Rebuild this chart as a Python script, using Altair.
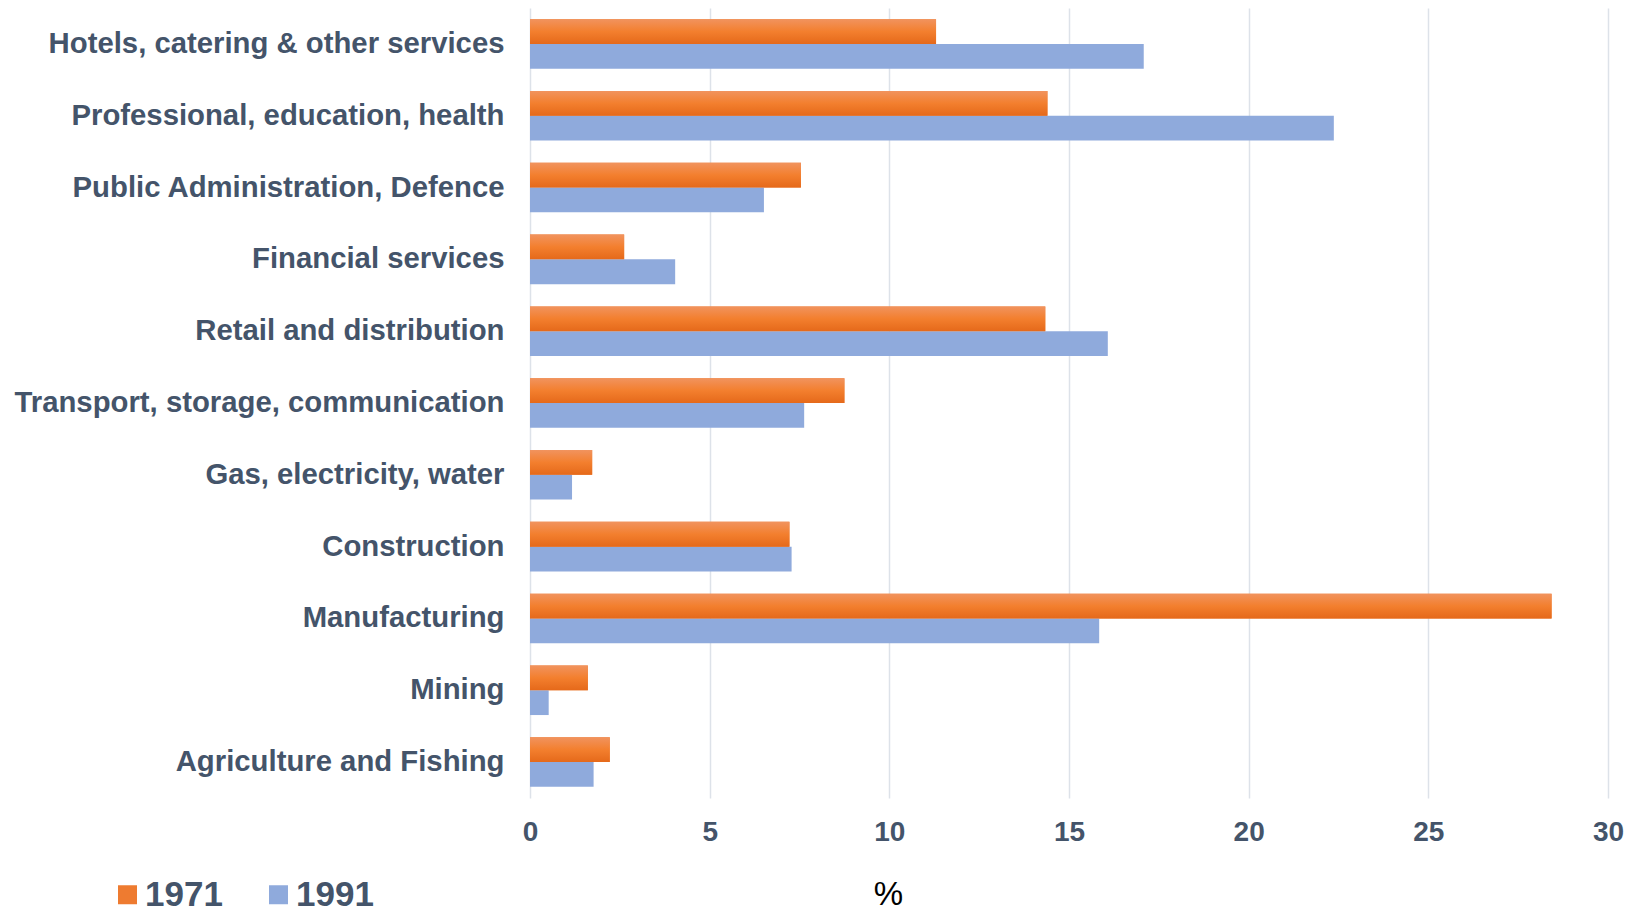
import altair as alt
import pandas as pd

categories = [
    "Hotels, catering & other services",
    "Professional, education, health",
    "Public Administration, Defence",
    "Financial services",
    "Retail and distribution",
    "Transport, storage, communication",
    "Gas, electricity, water",
    "Construction",
    "Manufacturing",
    "Mining",
    "Agriculture and Fishing",
]
v1971 = [11.3, 14.4, 7.54, 2.62, 14.34, 8.75, 1.73, 7.22, 28.43, 1.61, 2.22]
v1991 = [17.08, 22.37, 6.51, 4.04, 16.08, 7.63, 1.17, 7.28, 15.84, 0.52, 1.77]
years = ["1971", "1991"]
colors = ["#EE7B30", "#8FAADC"]
x_ticks = [0, 5, 10, 15, 20, 25, 30]

rows = []
for c, a, b in zip(categories, v1971, v1991):
    rows.append({"sector": c, "year": "1971", "value": a})
    rows.append({"sector": c, "year": "1991", "value": b})
df = pd.DataFrame(rows)

FONT = "Liberation Sans"
LABEL_COLOR = "#44546A"

y_enc = alt.Y(
    "sector:N",
    sort=categories,
    scale=alt.Scale(paddingInner=0.31, paddingOuter=0.155),
    axis=alt.Axis(
        title=None,
        labelFont=FONT,
        labelFontSize=29.3,
        labelFontWeight="bold",
        labelColor=LABEL_COLOR,
        labelPadding=26,
        labelLimit=700,
        ticks=False,
        domain=False,
        grid=False,
    ),
)
x_enc = alt.X(
    "value:Q",
    scale=alt.Scale(domain=[0, 30], nice=False),
    axis=alt.Axis(
        values=x_ticks,
        title="%",
        titleFont=FONT,
        titleFontSize=33,
        titleFontWeight="normal",
        titleColor="black",
        titleX=358,
        titleY=106,
        titleAlign="center",
        titleBaseline="alphabetic",
        labelFont=FONT,
        labelFontSize=28,
        labelFontWeight="bold",
        labelColor=LABEL_COLOR,
        labelPadding=20,
        labelFlush=False,
        ticks=False,
        domain=False,
        grid=True,
        gridColor="#DDE2E9",
        gridWidth=1.5,
    ),
)
yoff = alt.YOffset("year:N", scale=alt.Scale(domain=years, paddingInner=0, paddingOuter=0))

base_bars = alt.Chart(df).mark_bar().encode(
    y=y_enc,
    x=x_enc,
    yOffset=yoff,
    color=alt.Color(
        "year:N",
        scale=alt.Scale(domain=years, range=colors),
        legend=alt.Legend(
            orient="none",
            legendX=-420,
            legendY=869,
            direction="horizontal",
            title=None,
            symbolType="square",
            symbolSize=361,
            symbolStrokeWidth=0,
            labelFont=FONT,
            labelFontSize=35,
            labelFontWeight="bold",
            labelColor=LABEL_COLOR,
            labelOffset=0,
            columnPadding=38,
        ),
    ),
)

grad = alt.LinearGradient(
    gradient="linear",
    x1=0, x2=0, y1=0, y2=1,
    stops=[
        alt.GradientStop(color="#F1935E", offset=0),
        alt.GradientStop(color="#F37F2E", offset=0.5),
        alt.GradientStop(color="#E5691A", offset=1),
    ],
)

grad_bars = alt.Chart(df).transform_filter(alt.datum.year == "1971").mark_bar(color=grad).encode(
    y=alt.Y("sector:N", sort=categories),
    x=alt.X("value:Q"),
    yOffset=alt.YOffset("year:N", scale=alt.Scale(domain=years)),
)

chart = (
    alt.layer(base_bars, grad_bars)
    .properties(
        width=1078,
        height=790,
        autosize=alt.AutoSizeParams(type="none"),
        padding={"left": 522, "top": 0, "right": 21, "bottom": 114},
        background="white",
    )
    .configure_view(stroke=None)
)

chart.save("out.html", embed_options={"renderer": "svg", "actions": False})
